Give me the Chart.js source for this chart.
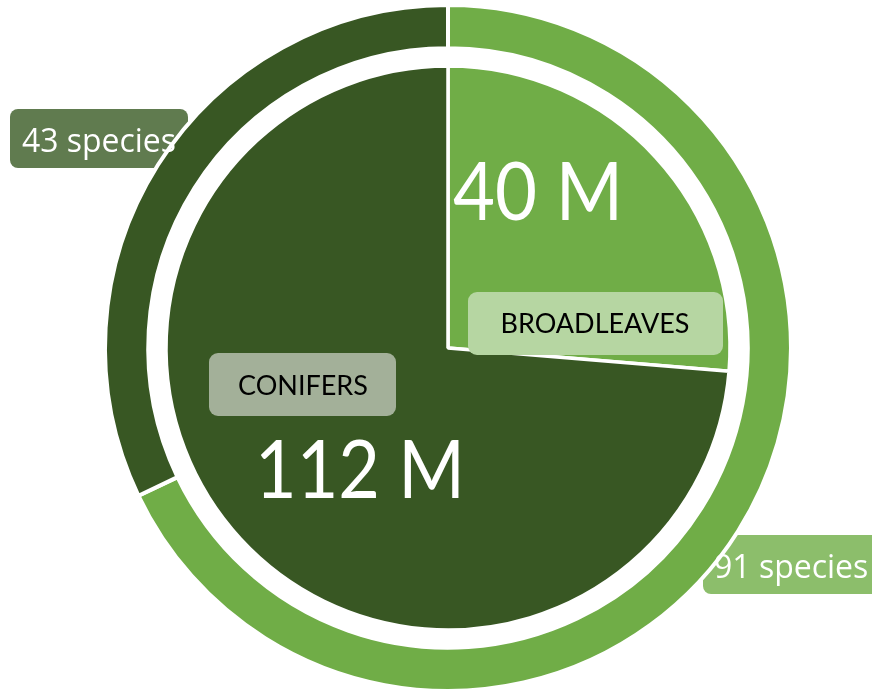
<!DOCTYPE html>
<html>
<head>
<meta charset="utf-8">
<script src="https://cdn.jsdelivr.net/npm/chart.js@4"></script>
<style>
  html, body { margin: 0; padding: 0; background: #fff; }
  #wrap { position: relative; width: 872px; height: 691px; }
  #wrap canvas { position: absolute; left: 0; top: 0; }
</style>
</head>
<body>
<div id="wrap">
  <canvas id="volumeChart" width="872" height="691"></canvas>
  <canvas id="speciesChart" width="872" height="691"></canvas>
</div>
<script>
// Tree groups, standing volume (millions) and number of species
const groups = ['BROADLEAVES', 'CONIFERS'];
const volume = [40, 112];
const species = [91, 43];

const LIGHT = '#70ad47';
const DARK = '#385723';

const pad = { left: 24, right: 0, top: 5, bottom: 0 };

// Inner pie: volume by group
new Chart(document.getElementById('volumeChart'), {
    type: 'pie',
    data: {
        labels: groups,
        datasets: [{
            data: volume,
            backgroundColor: [LIGHT, DARK],
            borderColor: '#ffffff',
            borderWidth: 3.5
        }]
    },
    options: {
        responsive: false,
        animation: false,
        radius: 282,
        layout: { padding: pad },
        plugins: { legend: { display: false }, tooltip: { enabled: false } }
    }
});

function roundBox(ctx, x, y, w, h, r, fill) {
    ctx.save();
    ctx.fillStyle = fill;
    ctx.beginPath();
    ctx.roundRect(x, y, w, h, r);
    ctx.fill();
    ctx.restore();
}

function putText(ctx, text, x, y, font, color, align, maxWidth) {
    ctx.save();
    ctx.font = font;
    ctx.fillStyle = color;
    ctx.textAlign = align || 'left';
    ctx.textBaseline = 'alphabetic';
    if (maxWidth) ctx.fillText(text, x, y, maxWidth);
    else ctx.fillText(text, x, y);
    ctx.restore();
}

const labelPlugin = {
    id: 'labels',
    beforeDatasetsDraw(chart) {
        const ctx = chart.ctx;
        // species boxes sit under the ring
        roundBox(ctx, 10, 109, 178, 59, 8, '#607b4f');
        roundBox(ctx, 703, 535, 180, 59, 8, '#8cbe6b');
    },
    afterDraw(chart) {
        const ctx = chart.ctx;
        const speciesFont = '32px "Open Sans", sans-serif';
        putText(ctx, species[1] + ' species', 22, 152, speciesFont, '#ffffff', 'left', 154);
        putText(ctx, species[0] + ' species', 714, 578, speciesFont, '#ffffff', 'left', 156);

        roundBox(ctx, 468, 292, 255, 63, 9, '#b6d6a2');
        roundBox(ctx, 209, 353, 187, 63, 9, '#a3b099');
        const groupFont = '27px Lato, sans-serif';
        putText(ctx, groups[0], 595, 333, groupFont, '#000000', 'center');
        putText(ctx, groups[1], 303, 395, groupFont, '#000000', 'center');

        const bigFont = '82px Lato, sans-serif';
        putText(ctx, volume[0] + ' M', 538, 220, bigFont, '#ffffff', 'center', 170);
        putText(ctx, volume[1] + ' M', 360, 498, bigFont, '#ffffff', 'center', 210);
    }
};

// Outer ring: species by group
new Chart(document.getElementById('speciesChart'), {
    type: 'doughnut',
    data: {
        labels: groups,
        datasets: [{
            data: species,
            backgroundColor: [LIGHT, DARK],
            borderColor: '#ffffff',
            borderWidth: 4
        }]
    },
    options: {
        responsive: false,
        animation: false,
        radius: 343,
        cutout: 298,
        layout: { padding: pad },
        plugins: { legend: { display: false }, tooltip: { enabled: false } }
    },
    plugins: [labelPlugin]
});
</script>
</body>
</html>
